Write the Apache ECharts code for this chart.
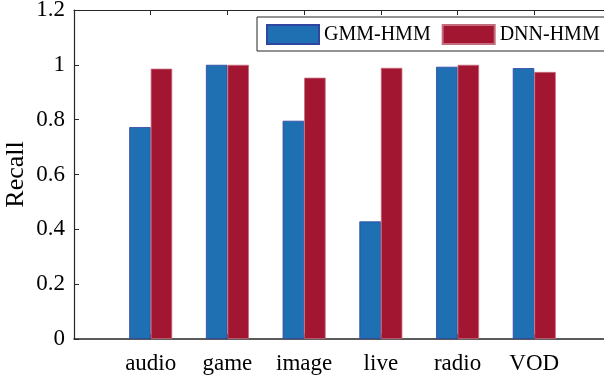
<!DOCTYPE html>
<html>
<head>
<meta charset="utf-8">
<script src="https://cdn.jsdelivr.net/npm/echarts@6/dist/echarts.min.js"></script>
<style>html,body{margin:0;padding:0;background:#fff}#c{width:604px;height:379px}</style>
</head>
<body>
<div id="c"></div>
<script>
const categories = ['audio', 'game', 'image', 'live', 'radio', 'VOD'];
const gmmHmm = [0.773, 1.0, 0.796, 0.429, 0.993, 0.988];
const dnnHmm = [0.986, 1.0, 0.953, 0.989, 1.0, 0.974];
const yTicks = { min: 0, max: 1.2, interval: 0.2 };
const yName = 'Recall';

// MATLAB-style x limits [0, 7]: pad with empty slots at both ends
const xData = [''].concat(categories, ['']);
const pad = arr => [null].concat(arr, [null]);

const font = '"Liberation Serif", "Times New Roman", serif';
const axisColor = '#262626';

const chart = echarts.init(document.getElementById('c'), null, { renderer: 'canvas' });
chart.setOption({
  animation: false,
  backgroundColor: '#fff',
  grid: { left: 74, top: 10, right: -7, bottom: 40, containLabel: false, outerBoundsMode: 'none' },
  legend: {
    left: 257, top: 17, width: 360,
    orient: 'horizontal',
    icon: 'rect',
    itemWidth: 52, itemHeight: 19, itemGap: 11,
    padding: [7, 6, 6, 9],
    borderColor: axisColor, borderWidth: 1,
    backgroundColor: '#fff',
    textStyle: { fontFamily: font, fontSize: 20, lineHeight: 20, color: '#000' },
    data: ['GMM-HMM', 'DNN-HMM']
  },
  graphic: [{
    type: 'text', x: 16, y: 174.5, rotation: Math.PI / 2,
    style: { text: yName, font: '26px ' + font, fill: '#000', align: 'center', verticalAlign: 'middle' }
  }],
  xAxis: [{
    type: 'category', data: xData, boundaryGap: false, position: 'bottom',
    axisLine: { lineStyle: { color: axisColor, width: 1.5 } },
    axisTick: { inside: true, length: 5, lineStyle: { color: axisColor } },
    axisLabel: { fontFamily: font, fontSize: 23, color: '#000', margin: 13, interval: 0 },
    splitLine: { show: false }
  }, {
    type: 'category', data: xData, boundaryGap: false, position: 'top',
    axisLine: { lineStyle: { color: axisColor, width: 1.2 } },
    axisTick: { inside: true, length: 5, lineStyle: { color: axisColor } },
    axisLabel: { show: false },
    splitLine: { show: false }
  }],
  yAxis: {
    type: 'value', min: yTicks.min, max: yTicks.max, interval: yTicks.interval,
    axisLine: { show: true, lineStyle: { color: axisColor, width: 1.2 } },
    axisTick: { show: true, inside: true, length: 5, lineStyle: { color: axisColor } },
    axisLabel: { fontFamily: font, fontSize: 23, color: '#000', margin: 9 },
    splitLine: { show: false }
  },
  series: [{
    name: 'GMM-HMM', type: 'bar', data: pad(gmmHmm), barWidth: 21.5, barGap: '0%',
    itemStyle: { color: '#1f6fb3', borderColor: '#2f45a0', borderWidth: 0.8 }
  }, {
    name: 'DNN-HMM', type: 'bar', data: pad(dnnHmm), barWidth: 21.5, barGap: '0%',
    itemStyle: { color: '#a21631', borderColor: '#c46c7e', borderWidth: 0.8 }
  }]
});
</script>
</body>
</html>
